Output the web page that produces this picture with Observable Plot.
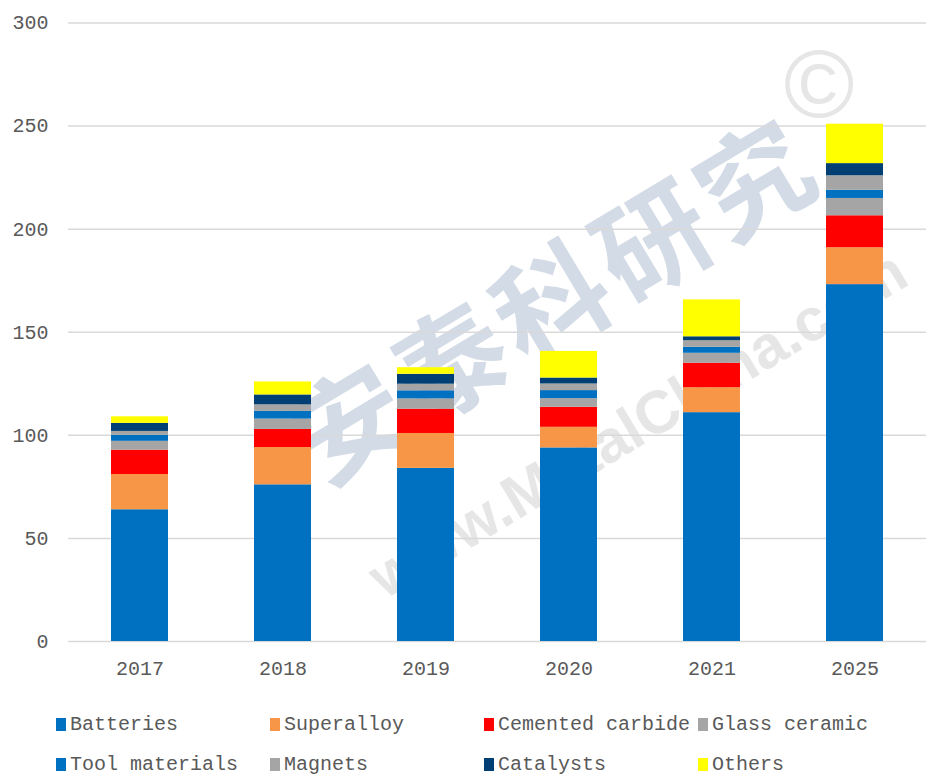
<!DOCTYPE html>
<html>
<head>
<meta charset="utf-8">
<script src="https://cdn.jsdelivr.net/npm/d3@7"></script>
<script src="https://cdn.jsdelivr.net/npm/@observablehq/plot@0.6"></script>
<style>
  body { margin: 0; background: #fff; }
  #wrap { position: relative; width: 926px; }
  #wm { position: absolute; left: 0; top: 0; z-index: 0; }
  #chart { position: relative; z-index: 1; }
  #chart svg { background: transparent; }
  .legend { display: grid; grid-template-columns: 214px 214px 214px 214px; padding-left: 56px; padding-top: 14px;
            font-family: "Liberation Mono", monospace; font-size: 20px; color: #595959; }
  .item { height: 40px; display: flex; align-items: center; white-space: nowrap; }
  .sw { width: 10px; height: 13px; margin-right: 4px; flex: none; }
</style>
</head>
<body>
<div id="wrap">
  <svg id="wm" width="926" height="690">
    <text x="560" y="310" transform="rotate(-31 560 310)" text-anchor="middle" dominant-baseline="middle"
          font-family="Noto Sans CJK SC" font-weight="bold" font-size="112" letter-spacing="6" fill="#d3dbe6">安泰科研究</text>
    <text x="640" y="428" transform="rotate(-31 640 428)" text-anchor="middle" dominant-baseline="middle"
          font-family="Liberation Sans" font-weight="bold" font-size="60" fill="#e6e6e6">www.MetalChina.com</text>
    <text x="819" y="92" text-anchor="middle" dominant-baseline="middle"
          font-family="Liberation Sans" font-size="96" fill="#e6e6e6">©</text>
  </svg>
  <div id="chart"></div>
  <div class="legend" id="legend"></div>
</div>
<script>
const years = ["2017", "2018", "2019", "2020", "2021", "2025"];
const seriesNames = ["Batteries", "Superalloy", "Cemented carbide", "Glass ceramic",
                     "Tool materials", "Magnets", "Catalysts", "Others"];
const seriesColors = ["#0070C0", "#F79646", "#FF0000", "#A5A5A5",
                      "#0070C0", "#A5A5A5", "#003F73", "#FFFF00"];
const batteries = [63.9, 76.0, 84.0, 93.9, 111.0, 173.1];
const superalloy = [17.1, 18.1, 16.9, 10.0, 12.1, 17.9];
const cementedCarbide = [11.8, 8.8, 11.8, 9.7, 11.9, 15.5];
const glassCeramic = [4.3, 5.0, 5.0, 4.2, 4.8, 8.4];
const toolMaterials = [2.9, 3.7, 3.9, 3.9, 2.9, 4.0];
const magnets = [1.9, 3.2, 3.2, 3.2, 3.2, 7.0];
const catalysts = [3.9, 4.8, 4.8, 2.9, 1.9, 5.9];
const others = [3.2, 6.3, 3.2, 12.9, 17.9, 19.1];
const yTicks = [0, 50, 100, 150, 200, 250, 300];

const seriesValues = [batteries, superalloy, cementedCarbide, glassCeramic,
                      toolMaterials, magnets, catalysts, others];
const data = [];
seriesNames.forEach((s, i) => {
  years.forEach((y, j) => data.push({year: y, series: s, value: seriesValues[i][j]}));
});

const chart = Plot.plot({
  width: 926,
  height: 690,
  marginLeft: 68,
  marginRight: 0,
  marginTop: 22.5,
  marginBottom: 49,
  style: {background: "transparent", fontFamily: "Liberation Mono, monospace", fontSize: "20px", color: "#595959"},
  x: {domain: years, paddingInner: 0.6, paddingOuter: 0.3, label: null},
  y: {domain: [0, 300], label: null},
  color: {domain: seriesNames, range: seriesColors},
  marks: [
    Plot.gridY(yTicks, {stroke: "#d9d9d9", strokeOpacity: 1, strokeWidth: 1.5}),
    Plot.barY(data, {x: "year", y: "value", fill: "series", order: null}),
    Plot.axisY(yTicks, {tickSize: 0, tickPadding: 20, label: null, fill: "#595959"}),
    Plot.axisX({tickSize: 0, tickPadding: 19, label: null, fill: "#595959"})
  ]
});
document.getElementById("chart").appendChild(chart);

const legend = document.getElementById("legend");
seriesNames.forEach((s, i) => {
  const item = document.createElement("div");
  item.className = "item";
  const sw = document.createElement("span");
  sw.className = "sw";
  sw.style.background = seriesColors[i];
  const t = document.createElement("span");
  t.textContent = s;
  item.appendChild(sw);
  item.appendChild(t);
  legend.appendChild(item);
});
</script>
</body>
</html>
